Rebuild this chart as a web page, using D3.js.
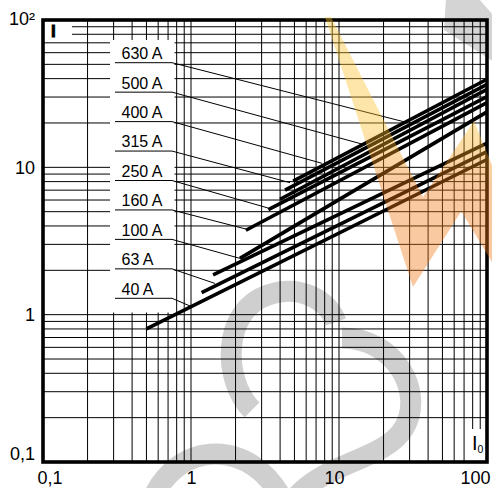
<!DOCTYPE html>
<html><head><meta charset="utf-8">
<script src="https://cdn.jsdelivr.net/npm/d3@7"></script>
<style>
html,body{margin:0;padding:0;background:#fff;}
svg{display:block;font-family:"Liberation Sans",Arial,Helvetica,sans-serif;}
</style>
</head><body>
<svg id="chart" width="492" height="488"></svg>
<script>
// ---------- data ----------
const ratings   = ["40 A","63 A","100 A","160 A","250 A","315 A","400 A","500 A","630 A"];
const startI0   = [0.5, 1.18, 1.41, 2.14, 2.35, 3.33, 4.0, 4.32, 4.9];
const startI    = [0.8, 1.41, 1.86, 2.41, 3.74, 5.17, 6.07, 7.0, 8.05];
const endI0     = [100, 100, 100, 100, 100, 100, 100, 100, 100];
const endI      = [11.3, 12.8, 14.6, 23.8, 27.5, 30.2, 33.8, 36.6, 39.6];
// where each label's leader line meets the chart (I0, I)
const leaderI0  = [0.985, 1.45, 2.14, 2.38, 3.31, 4.67, 7.67, 15.0, 27.9];
const leaderI   = [1.145, 1.63, 2.41, 3.80, 5.30, 7.87, 10.65, 14.2, 20.3];
const xTickValues = [0.1, 1, 10, 100];
const xTickLabels = ["0,1", "1", "10", "100"];
const yTickValues = [0.1, 1, 10, 100];
const yTickLabels = ["0,1", "1", "10", "10\u00B2"];
const decades = [0.1, 1, 10];
const multipliers = [1,2,3,4,5,6,7,8,9];

// ---------- layout ----------
const L = 43, R = 487, T = 20, B = 462;
const svg = d3.select("#chart");
const x = d3.scaleLog().domain([0.1, 100]).range([L, R]);
const y = d3.scaleLog().domain([0.1, 100]).range([B, T]);

// gray watermark (behind)
const wm = svg.append("g").attr("fill","none").attr("stroke","#000").attr("stroke-opacity",0.19).attr("stroke-width",21);
wm.append("path").attr("d","M150,505 C175,437 255,437 285,505");
wm.append("path").attr("d","M252,410 C222,380 222,310 268,295 C300,284 328,300 336,322");
wm.append("path").attr("d","M342,338 C395,338 425,392 404,428 C384,462 318,462 290,505");
svg.append("path").attr("d","M446,-2 L478,-2 L494,16 L494,62 L444,30 Z").attr("fill","#000").attr("fill-opacity",0.17);

// grid
const gridVals = [];
decades.forEach(d => multipliers.forEach(m => { const v = +(d*m).toPrecision(3); if (v > 0.1 && v < 100) gridVals.push(v); }));
const grid = svg.append("g").attr("stroke","#000").attr("stroke-width",1);
grid.selectAll("line.v").data(gridVals).join("line").attr("class","v")
  .attr("x1", d => x(d)).attr("x2", d => x(d)).attr("y1", T).attr("y2", B);
grid.selectAll("line.h").data(gridVals).join("line").attr("class","h")
  .attr("y1", d => y(d)).attr("y2", d => y(d)).attr("x1", L).attr("x2", R);

// white masks behind labels
const masks = [[110,40,64.5,272.5],[44,21.5,28,18.5],[466,429,20,32]];
svg.append("g").selectAll("rect").data(masks).join("rect")
  .attr("x", d=>d[0]).attr("y", d=>d[1]).attr("width", d=>d[2]).attr("height", d=>d[3]).attr("fill","#fff");

// curves
const lineGen = d3.line().x(d => x(d[0])).y(d => y(d[1]));
svg.append("g").selectAll("path").data(ratings.map((r,i)=>[[startI0[i],startI[i]],[endI0[i],endI[i]]]))
  .join("path").attr("d", lineGen).attr("fill","none").attr("stroke","#000").attr("stroke-width",3.6);

// labels + leaders
const labelTop = 62.7, labelStep = 29.45;
const lab = svg.append("g");
ratings.forEach((r,i) => {
  const uy = labelTop + (ratings.length-1-i)*labelStep;
  lab.append("path").attr("d", `M115,${uy}H172L${x(leaderI0[i])},${y(leaderI[i])}`)
    .attr("fill","none").attr("stroke","#000").attr("stroke-width",1);
  lab.append("text").attr("x",121.5).attr("y",uy-3.6).attr("font-size",16).attr("fill","#000").text(r);
});

// axes labels
const xAxis = d3.axisBottom(x).tickValues(xTickValues).tickSize(0).tickPadding(9)
  .tickFormat((d,i)=>xTickLabels[i]);
const gx = svg.append("g").attr("transform",`translate(0,${B})`).call(xAxis);
gx.select(".domain").remove();
const xShift = [6.5, 0, -5, -12];
gx.selectAll("text").attr("font-size",18).attr("font-family","Liberation Sans, Arial, sans-serif").attr("fill","#000")
  .attr("dx",(d,i)=>xShift[i]);

const yAxis = d3.axisLeft(y).tickValues(yTickValues).tickSize(0).tickPadding(8)
  .tickFormat((d,i)=>yTickLabels[i]);
const gy = svg.append("g").attr("transform",`translate(${L},0)`).call(yAxis);
gy.select(".domain").remove();
const yShift = [-7.8, 0.5, 0.5, -1];
gy.selectAll("text").attr("font-size",18).attr("font-family","Liberation Sans, Arial, sans-serif").attr("fill","#000")
  .attr("dy",(d,i)=>(0.32*18 + yShift[i]) + "px");

// axis symbols
svg.append("text").attr("x",51).attr("y",37.3).attr("font-size",17).attr("font-weight","bold")
  .attr("stroke","#000").attr("stroke-width",0.9).text("I");
const i0 = svg.append("text").attr("x",472).attr("y",450).attr("font-size",20);
i0.append("tspan").text("I");
i0.append("tspan").attr("font-size",10.5).attr("dy",2.5).text("0");

// border
svg.append("rect").attr("x",L).attr("y",T).attr("width",R-L).attr("height",B-T)
  .attr("fill","none").attr("stroke","#000").attr("stroke-width",3.6);

// orange / yellow watermark on top
const defs = svg.append("defs");
const lg = defs.append("linearGradient").attr("id","og").attr("gradientUnits","userSpaceOnUse")
  .attr("x1",0).attr("y1",17).attr("x2",0).attr("y2",287);
lg.append("stop").attr("offset",0).attr("stop-color","#fcc32a");
lg.append("stop").attr("offset",0.42).attr("stop-color","#fbbd2a");
lg.append("stop").attr("offset",0.62).attr("stop-color","#f07a14");
lg.append("stop").attr("offset",1).attr("stop-color","#f07511");
svg.append("path")
  .attr("d","M325,17 L331,17 L423,197 L474,121 L505,197 L505,300 L492,262 L461.3,211.3 L413,287 Z")
  .attr("fill","url(#og)").attr("fill-opacity",0.4);
</script>
</body></html>
